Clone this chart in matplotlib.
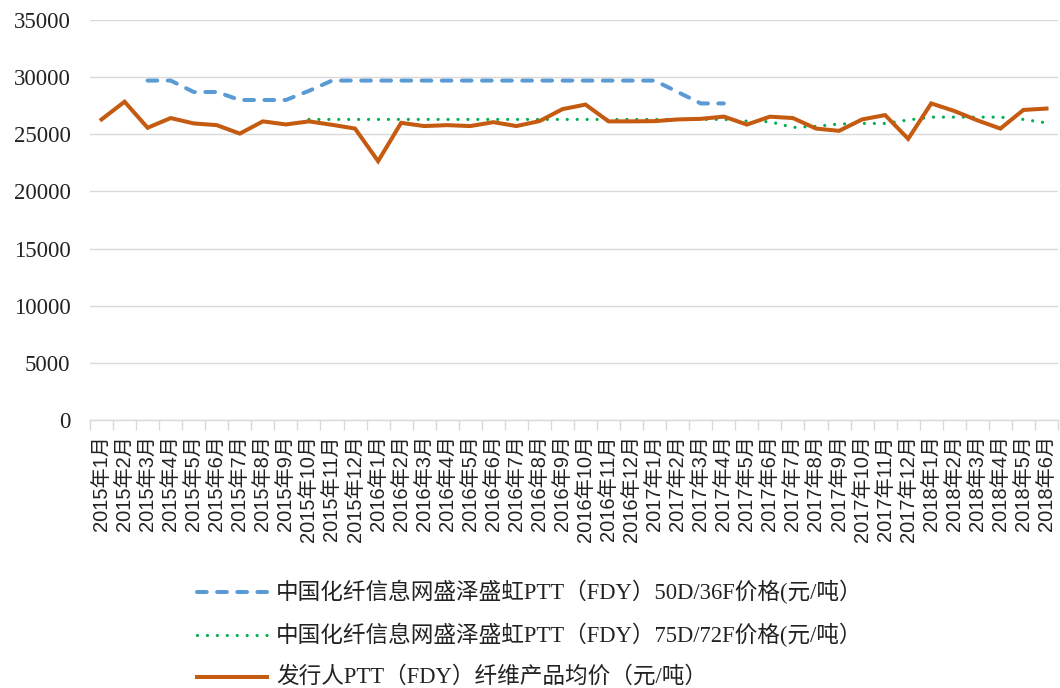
import matplotlib
matplotlib.use("Agg")
import matplotlib.pyplot as plt
from matplotlib.lines import Line2D
import numpy as np

months = [f"{y}年{m}月" for y in (2015, 2016, 2017) for m in range(1, 13)] + [f"2018年{m}月" for m in range(1, 7)]

# 中国化纤信息网盛泽盛虹PTT（FDY）50D/36F价格 (2015年3月 – 2017年4月)
blue_vals = [None, None, 29700, 29700, 28700, 28700, 28000, 28000, 28000, 28800,
             29700, 29700, 29700, 29700, 29700, 29700, 29700, 29700, 29700, 29700,
             29700, 29700, 29700, 29700, 29700, 28700, 27700, 27700] + [None] * 14

# 中国化纤信息网盛泽盛虹PTT（FDY）75D/72F价格 (2015年10月 – 2018年6月)
green_vals = [None] * 9 + [26300] * 19 + [26150, 26100, 25600, 25700, 25900, 25950,
                                         25950, 26250, 26500, 26500, 26500, 26500, 26300, 26000]

# 发行人PTT（FDY）纤维产品均价
orange_vals = [26300, 27850, 25570, 26420, 25950, 25800, 25060, 26130, 25860, 26130,
               25830, 25500, 22650, 26000, 25720, 25800, 25720, 26060, 25720, 26150,
               27200, 27600, 26130, 26130, 26150, 26300, 26350, 26550, 25850, 26540,
               26420, 25500, 25300, 26300, 26680, 24600, 27700, 27040, 26220, 25500,
               27130, 27250]

labels = ["中国化纤信息网盛泽盛虹PTT（FDY）50D/36F价格(元/吨）",
          "中国化纤信息网盛泽盛虹PTT（FDY）75D/72F价格(元/吨）",
          "发行人PTT（FDY）纤维产品均价（元/吨）"]

SERIF = ["Liberation Serif", "Noto Sans CJK SC"]
SANS = ["Liberation Sans", "Noto Sans CJK SC"]
plt.rcParams["font.family"] = SERIF

W, H = 1060, 688
fig = plt.figure(figsize=(W / 100, H / 100), dpi=100)
ax = fig.add_axes([90 / W, 1 - 420 / H, 968 / W, 400 / H])

x = np.arange(len(months))
def arr(v):
    return np.array([np.nan if a is None else a for a in v], dtype=float)

blue_c, green_c, orange_c = "#5B9BD5", "#00B050", "#C55A11"
blue_style = dict(color=blue_c, lw=2.9, linestyle=(0, (2.4, 2.6)), dash_capstyle="round")
green_style = dict(color=green_c, lw=2.3, linestyle=(0, (0.01, 3.1)), dash_capstyle="round")
orange_style = dict(color=orange_c, lw=2.9, solid_joinstyle="miter")

ax.plot(x, arr(blue_vals), zorder=3, **blue_style)
ax.plot(x, arr(green_vals), zorder=3, **green_style)
ax.plot(x, arr(orange_vals), zorder=4, **orange_style)

ax.set_xlim(-0.5, len(months) - 0.5)
ax.set_ylim(0, 35000)
ax.set_yticks(np.arange(0, 35001, 5000))
ax.tick_params(axis="y", length=0, labelsize=16.5, pad=14, labelcolor="#222222")
ax.grid(axis="y", color="#D9D9D9", lw=1)
ax.set_axisbelow(True)

ax.set_xticks(x)
ax.set_xticklabels(months, rotation=90, fontsize=14.5, color="#222222", family=SANS)
ax.tick_params(axis="x", which="major", length=0, pad=11)
ax.set_xticks(np.arange(-0.5, len(months), 1), minor=True)
ax.tick_params(axis="x", which="minor", length=7, color="#D9D9D9", width=1)

for s in ("top", "right", "left"):
    ax.spines[s].set_visible(False)
ax.spines["bottom"].set_color("#D9D9D9")
ax.spines["bottom"].set_linewidth(1)

# legend below the chart
rows_y = [592, 635, 677]
styles = [blue_style, green_style, orange_style]
for yy, st, lab in zip(rows_y, styles, labels):
    fy = 1 - yy / H
    fig.add_artist(Line2D([197 / W, 267 / W], [fy, fy], transform=fig.transFigure, **st))
    fig.text(276 / W, fy, lab, fontsize=16.3, va="center", ha="left", color="#222222",
             family=SERIF)

fig.savefig("out.png", dpi=100)
